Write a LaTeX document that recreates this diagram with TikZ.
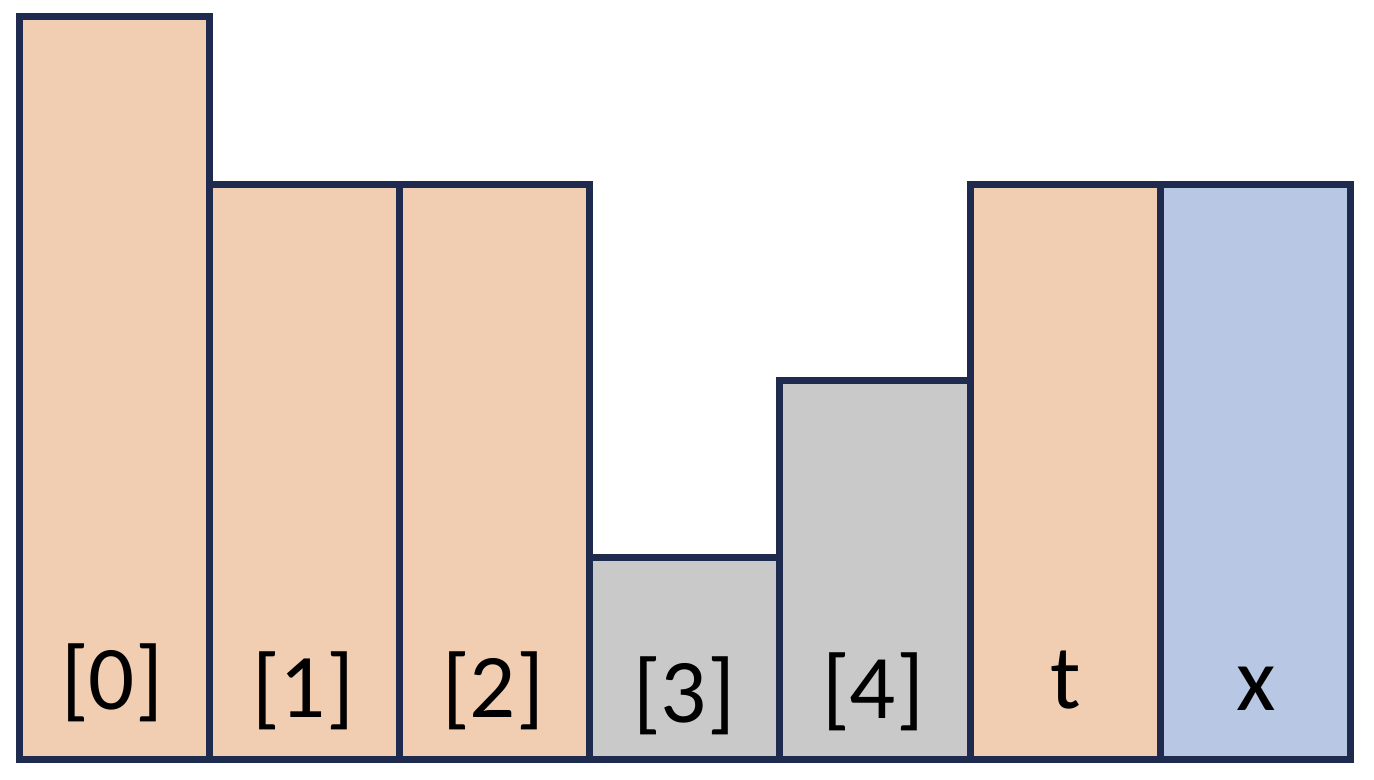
\documentclass[tikz,border=0pt]{standalone}
\usepackage{fontspec}
\setmainfont{Carlito}
\definecolor{peach}{HTML}{F1CDB1}
\definecolor{greybar}{HTML}{C9C9C9}
\definecolor{bluebar}{HTML}{B8C7E4}
\definecolor{edge}{HTML}{1E2A4E}
\begin{document}
\begin{tikzpicture}[x=0.5pt,y=-0.5pt,
  bar/.style={draw=edge,line width=3.5pt,line join=miter},
  lbl/.style={anchor=base,inner sep=0pt,font=\fontsize{45.5}{55}\selectfont}]
\useasboundingbox (0,0) rectangle (1374,780);
\draw[bar,fill=peach] (19.3,16.7) rectangle (209.3,759.3);
\draw[bar,fill=peach] (209.3,184.3) rectangle (399.3,759.3);
\draw[bar,fill=peach] (399.3,184.3) rectangle (589.3,759.3);
\draw[bar,fill=greybar] (589.3,557.7) rectangle (779.5,759.3);
\draw[bar,fill=greybar] (779.5,380) rectangle (970.3,759.3);
\draw[bar,fill=peach] (970.3,184.3) rectangle (1160.6,759.3);
\draw[bar,fill=bluebar] (1160.6,184.3) rectangle (1350.7,759.3);
\node[lbl] (l0) at (112,709) {[0]};
\node[lbl] (l1) at (303,717) {[1]};
\node[lbl] (l2) at (493,717) {[2]};
\node[lbl] (l3) at (684,722.7) {[3]};
\node[lbl] (l4) at (873,718) {[4]};
\node[lbl] (lt) at (1066,708) {t};
\node[lbl] (lx) at (1256,710) {x};
\end{tikzpicture}
\end{document}
